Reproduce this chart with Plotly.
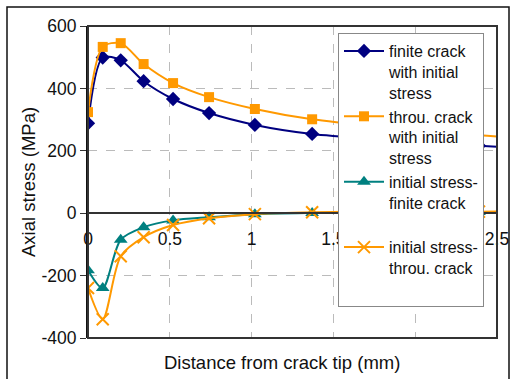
import plotly.graph_objects as go

distance = [0, 0.09, 0.2, 0.34, 0.52, 0.74, 1.02, 1.37, 1.82, 2.39, 3.1]
finite_with_init = [288, 499, 490, 423, 366, 321, 283, 254, 236, 216, 196]
thru_with_init = [324, 533, 545, 478, 417, 372, 334, 301, 276, 250, 226]
init_finite = [-183, -240, -85, -45, -23, -13, -3, 1, 3, 4, 5]
init_thru = [-240, -340, -138, -77, -38, -16, -3, 3, 5, 5, 6]

names = ["finite crack<br>with initial<br>stress",
         "throu. crack<br>with initial<br>stress",
         "initial stress-<br>finite crack<br> ",
         "initial stress-<br>throu. crack<br> "]

x_ticks = [0, 0.5, 1, 1.5, 2, 2.5]
x_labels = ["0", "0.5", "1", "1.5", "2", "2.5"]
y_ticks = [-400, -200, 0, 200, 400, 600]
y_labels = ["-400", "-200", "0", "200", "400", "600"]

navy = "#000080"
orange = "#FF9900"
teal = "#008080"

fig = go.Figure()
fig.add_trace(go.Scatter(x=distance, y=finite_with_init, name=names[0], mode="lines+markers",
                         line=dict(color=navy, width=2, shape="spline", smoothing=0.8),
                         marker=dict(symbol="diamond", size=11, color=navy)))
fig.add_trace(go.Scatter(x=distance, y=thru_with_init, name=names[1], mode="lines+markers",
                         line=dict(color=orange, width=2, shape="spline", smoothing=0.8),
                         marker=dict(symbol="square", size=10, color=orange)))
fig.add_trace(go.Scatter(x=distance, y=init_finite, name=names[2], mode="lines+markers",
                         line=dict(color=teal, width=2, shape="spline", smoothing=0.8),
                         marker=dict(symbol="triangle-up", size=12, color=teal)))
fig.add_trace(go.Scatter(x=distance, y=init_thru, name=names[3], mode="lines+markers",
                         line=dict(color=orange, width=2, shape="spline", smoothing=0.8),
                         marker=dict(symbol="x-thin-open", size=12, color=orange,
                                     line=dict(color=orange, width=2))))

W, H = 511, 379
L, R, T, B = 88, 14, 26, 41
pw, ph = W - L - R, H - T - B

def px(x):
    return (x - L) / pw

def py(y):
    return (H - B - y) / ph

font = "Liberation Sans, Arial, sans-serif"

fig.update_layout(
    width=W, height=H,
    margin=dict(l=L, r=R, t=T, b=B, autoexpand=False),
    paper_bgcolor="white", plot_bgcolor="white",
    font=dict(family=font, size=16, color="#111"),
    showlegend=True,
    legend=dict(x=px(338), y=py(33), xanchor="left", yanchor="top",
                bgcolor="white", bordercolor="#888", borderwidth=1,
                font=dict(size=16, family=font, color="#111"),
                valign="top", itemwidth=40, tracegroupgap=0,
                traceorder="normal"),
    xaxis=dict(range=[0, 2.5], showgrid=True, gridcolor="#bbbbbb", griddash="dash",
               gridwidth=1, tickvals=x_ticks, showticklabels=False, zeroline=False,
               showline=False, ticks="", automargin=False),
    xaxis2=dict(range=[0, 2.5], overlaying="x", anchor="free", position=0.4,
                tickvals=x_ticks, ticktext=x_labels,
                showgrid=False, zeroline=False, showline=True, linecolor="#333",
                linewidth=1.5, ticks="", automargin=False, ticklabelstandoff=10,
                tickfont=dict(size=17.5, family=font, color="#111")),
    yaxis=dict(range=[-400, 600], tickvals=y_ticks, ticktext=y_labels,
               showgrid=True, gridcolor="#bbbbbb",
               griddash="dash", gridwidth=1, zeroline=False, showline=True,
               linecolor="#111", linewidth=2, ticks="outside", ticklen=6,
               tickcolor="#333", automargin=False,
               tickfont=dict(size=17.5, family=font, color="#111")),
)

# dummy trace to activate xaxis2
fig.add_trace(go.Scatter(x=[None], y=[None], xaxis="x2", showlegend=False, hoverinfo="skip"))

fig.add_shape(type="rect", xref="paper", yref="paper", x0=0, x1=1, y0=0, y1=1,
              line=dict(color="#333", width=2), layer="above")
fig.add_shape(type="rect", xref="paper", yref="paper", x0=px(7), x1=px(509),
              y0=py(382), y1=py(7), line=dict(color="#111", width=1.5), layer="above")

fig.add_annotation(text="Distance from crack tip (mm)", xref="paper", yref="paper",
                   x=px(282), y=py(362), xanchor="center", yanchor="middle",
                   showarrow=False,
                   font=dict(size=18.5, family=font, color="#111"))
fig.add_annotation(text="Axial stress (MPa)", xref="paper", yref="paper",
                   x=px(28), y=py(182), xanchor="center", yanchor="middle",
                   showarrow=False, textangle=-90,
                   font=dict(size=18.5, family=font, color="#111"))

fig.write_html("out.html", config={"displayModeBar": False},
               post_script="document.body.style.margin='0';")
